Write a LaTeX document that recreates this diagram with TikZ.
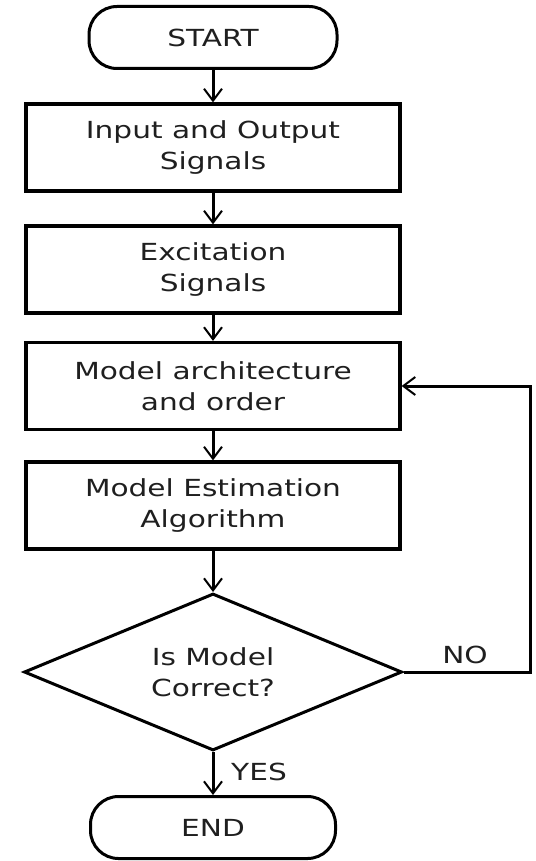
\documentclass[tikz,border=0pt]{standalone}
\usepackage{fontspec}
\setmainfont[FakeStretch=1.26]{DejaVu Sans}
\usepackage{tikz}
\usetikzlibrary{shapes.geometric, arrows.meta}
\tikzstyle{terminal} =
[rectangle, rounded corners = 28pt, minimum width = 248pt, minimum height = 62pt,
text centered, draw=black, line width = 3pt]
\tikzstyle{process} =
[rectangle, minimum width = 374pt, minimum height = 87pt, text centered,
align = center, draw=black, line width = 3.2pt]
\tikzstyle{decision} =
[diamond, aspect = 2.4, minimum width = 378pt, minimum height = 157pt,
inner sep = 0pt, align = center, draw=black, line width = 3pt]
\tikzstyle{answer} = [inner sep = 0pt]
\tikzstyle{line} = [draw, line width = 3pt,
-{Straight Barb[length=12pt, width=18pt, line width=2pt]}]

\begin{document}
\begin{tikzpicture}[x = 1pt, y = -1pt, node distance = 110pt,
  font = \fontsize{23.5}{31}\selectfont, text = black!88]
  \useasboundingbox (0,0) rectangle (535,861);
  % main column
  \node [terminal] (start) at (213,37.5) {START};
  \node [process, below of=start] (signals) {Input and Output\\ Signals};
  \node [process, below of=signals, node distance = 122pt] (excite)
   {Excitation\\ Signals};
  \node [process, below of=excite, node distance = 116.5pt] (arch)
   {Model architecture\\ and order};
  \node [process, below of=arch, node distance = 119.5pt] (estim)
   {Model Estimation\\ Algorithm};
  \node [decision, below of=estim, node distance = 166.5pt] (check)
   {Is Model\\ Correct?};
  \node [terminal, below of=check, node distance = 155.5pt, minimum width = 245pt]
   (finish) {END};
  % main column edges
  \path [line] (start) -- (signals);
  \path [line] (signals) -- (excite);
  \path [line] (excite) -- (arch);
  \path [line] (arch) -- (estim);
  \path [line] (estim) -- (check);
  \path [line] (check) -- (finish);
  %
  % feedback loop
  \coordinate [right of=arch, node distance = 317pt] (rim);
  \path [line] (check.east) -| (rim) -- (arch.east);
  \node [answer, right of=check, node distance = 252pt, yshift = 17pt] (no) {NO};
  \node [answer, below of=check, node distance = 100pt, xshift = 46pt] (yes) {YES};
\end{tikzpicture}
\end{document}
